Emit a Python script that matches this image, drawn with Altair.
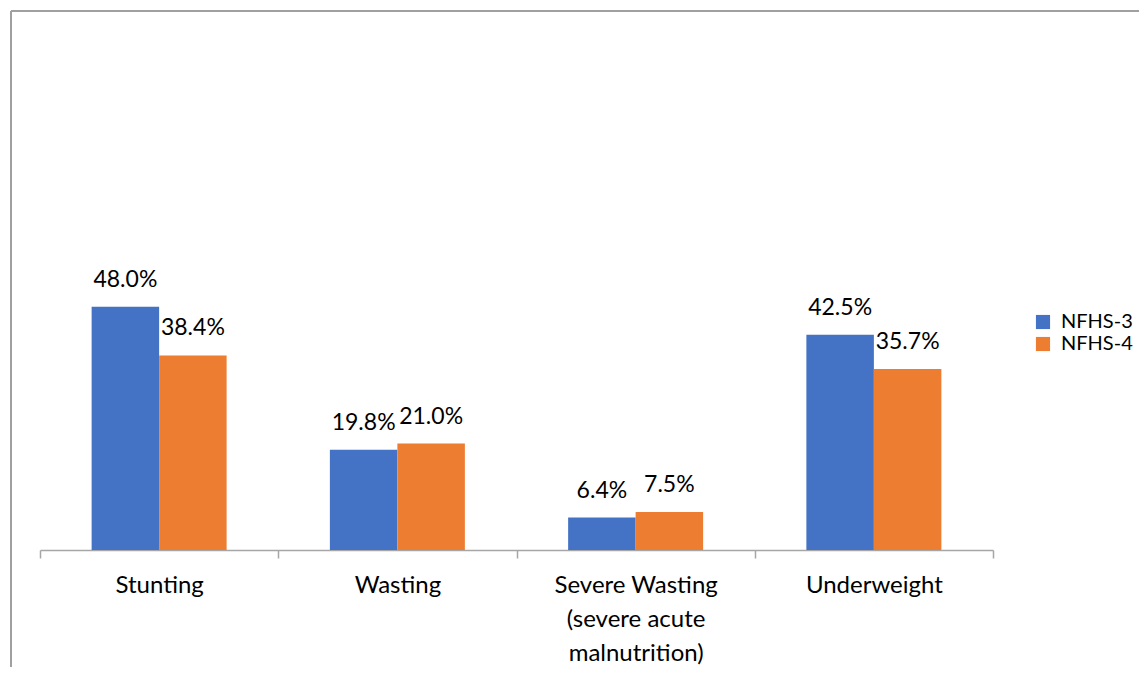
import altair as alt
import pandas as pd

categories = ["Stunting", "Wasting", "Severe Wasting|(severe acute|malnutrition)", "Underweight"]
series = ["NFHS-3", "NFHS-4"]
nfhs3 = [48.0, 19.8, 6.4, 42.5]
nfhs4 = [38.4, 21.0, 7.5, 35.7]
colors = ["#4472C4", "#ED7D31"]

rows = []
for c, a, b in zip(categories, nfhs3, nfhs4):
    rows.append({"cat": c, "series": series[0], "val": a, "lab": f"{a:.1f}%"})
    rows.append({"cat": c, "series": series[1], "val": b, "lab": f"{b:.1f}%"})
df = pd.DataFrame(rows)

FONT = "Lato"
W, H = 953, 304

x = alt.X("cat:N", sort=categories, title=None,
          scale=alt.Scale(paddingInner=0, paddingOuter=0),
          axis=alt.Axis(tickBand="extent", domainColor="#A6A6A6", tickColor="#A6A6A6",
                        tickSize=8, domainWidth=1.5, tickWidth=1.5, labelAngle=0,
                        labelFont=FONT, labelFontSize=24, labelColor="#000000",
                        labelPadding=15, labelLineHeight=34, labelBaseline="top",
                        labelExpr="split(datum.label, '|')"))
xo = alt.XOffset("series:N", sort=series,
                 scale=alt.Scale(paddingInner=0, paddingOuter=0.765))
y = alt.Y("val:Q", scale=alt.Scale(domain=[0, 60]), axis=None)

bars = alt.Chart(df).mark_bar().encode(
    x=x, xOffset=xo, y=y,
    color=alt.Color("series:N", sort=series,
                    scale=alt.Scale(domain=series, range=colors),
                    legend=alt.Legend(title=None, orient="none", legendX=993, legendY=66,
                                      symbolType="square", symbolSize=200,
                                      symbolStrokeWidth=0, rowPadding=2,
                                      labelFont=FONT, labelFontSize=20,
                                      labelColor="#000000", labelOffset=8,
                                      labelLimit=200)),
)

texts = alt.Chart(df).mark_text(font=FONT, fontSize=23, color="#000000",
                                baseline="alphabetic", dy=-20).encode(
    x=x, xOffset=xo, y=y, text="lab:N"
)

frame_top = alt.Chart(df).mark_rule(color="#A0A0A0", strokeWidth=1.5).encode(
    x=alt.value(-29), x2=alt.value(1200), y=alt.value(-235)
)
frame_left = alt.Chart(df).mark_rule(color="#A0A0A0", strokeWidth=1.5).encode(
    x=alt.value(-29), y=alt.value(-235), y2=alt.value(440)
)

chart = alt.layer(frame_top, frame_left, bars, texts).properties(
    width=W, height=H,
    padding={"left": 32, "top": 238, "right": 146, "bottom": 117},
    autosize=alt.AutoSizeParams(type="none"),
).configure_view(stroke=None)

chart.save("out.html", embed_options={"renderer": "svg", "actions": False})
